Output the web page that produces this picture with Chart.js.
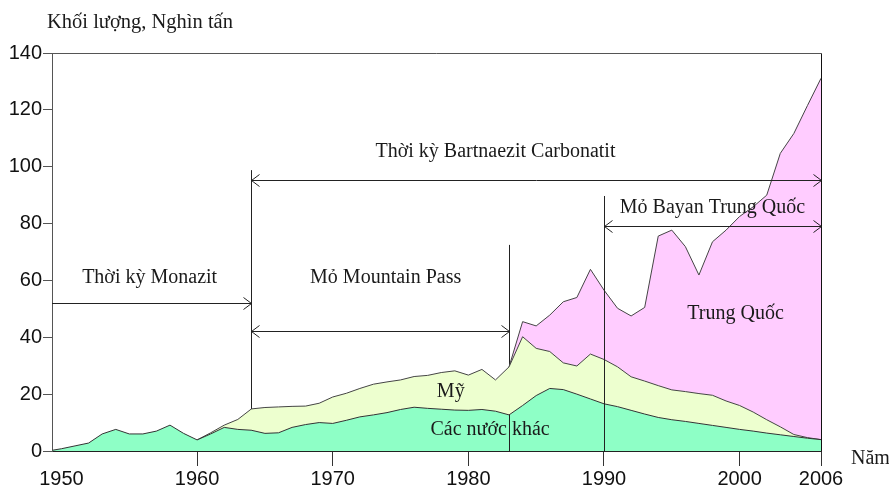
<!DOCTYPE html>
<html>
<head>
<meta charset="utf-8">
<script src="https://cdn.jsdelivr.net/npm/chart.js@4.4.0/dist/chart.umd.min.js"></script>
<style>
    html, body { margin: 0; padding: 0; background: #fff; }
    #wrap { width: 889px; height: 489px; }
</style>
</head>
<body>
<div id="wrap"><canvas id="chart"></canvas></div>
<script>
'use strict';

// years on the x axis
const years = [1949, 1950, 1951, 1952, 1953, 1954, 1955, 1956, 1957, 1958,
    1959, 1960, 1961, 1962, 1963, 1964, 1965, 1966, 1967, 1968,
    1969, 1970, 1971, 1972, 1973, 1974, 1975, 1976, 1977, 1978,
    1979, 1980, 1981, 1982, 1983, 1984, 1985, 1986, 1987, 1988,
    1989, 1990, 1991, 1992, 1993, 1994, 1995, 1996, 1997, 1998,
    1999, 2000, 2001, 2002, 2003, 2004, 2005, 2006];

// thousand tonnes
const others = [0, 0.8, 1.8, 2.8, 6.0, 7.6, 6.0, 6.0, 7.0, 9.1,
    6.2, 3.9, 6.0, 8.3, 7.6, 7.3, 6.2, 6.4, 8.3, 9.3,
    10.0, 9.7, 10.8, 12.0, 12.7, 13.5, 14.6, 15.4, 15.0, 14.7,
    14.4, 14.3, 14.6, 14.0, 12.7, 16.0, 19.5, 22.0, 21.6, 20.0,
    18.3, 16.6, 15.6, 14.3, 13.0, 11.8, 11.0, 10.4, 9.7, 9.0,
    8.3, 7.6, 7.0, 6.3, 5.7, 5.1, 4.5, 4.0];

const usa = [null, null, null, null, null, null, null, null, null, null,
    null, 0, 0.4, 0.8, 3.5, 7.5, 9.1, 9.1, 7.4, 6.5,
    6.8, 9.3, 9.5, 10.0, 10.8, 10.8, 10.4, 10.8, 11.6, 12.9,
    13.8, 12.4, 14.1, 11.0, 16.9, 24.2, 16.6, 13.0, 9.4, 9.9,
    15.8, 15.6, 14.0, 11.8, 11.6, 11.2, 10.5, 10.5, 10.5, 10.6,
    9.3, 8.4, 6.7, 4.7, 2.8, 0.7, 0.2, 0];

const china = [null, null, null, null, null, null, null, null, null, null,
    null, null, null, null, null, null, null, null, null, null,
    null, null, null, null, null, null, null, null, null, null,
    null, null, null, null, 0, 5.3, 7.9, 12.8, 21.5, 24.1,
    29.8, 24.4, 20.6, 21.4, 25.9, 52.6, 56.2, 51.0, 41.7, 54.0,
    60.1, 66.5, 72.2, 79.0, 96.2, 105.9, 116.8, 127.1];

const xTicks = [1950, 1960, 1970, 1980, 1990, 2000, 2006];

const serif = '"Liberation Serif", "Times New Roman", serif';
const sans = '"Liberation Sans", Arial, sans-serif';

const toPoints = (arr) => years.map((yr, i) => ({ x: yr, y: arr[i] }));

// crisp 1px line helpers
const px = (v) => Math.round(v) + 0.5;

function line(ctx, x1, y1, x2, y2) {
    ctx.beginPath();
    ctx.moveTo(x1, y1);
    ctx.lineTo(x2, y2);
    ctx.stroke();
}

function head(ctx, x, y, dir) {
    ctx.beginPath();
    ctx.moveTo(x - dir * 8, y - 6);
    ctx.lineTo(x, y);
    ctx.lineTo(x - dir * 8, y + 6);
    ctx.stroke();
}

const annotate = {
    id: 'annotate',
    beforeDatasetsDraw(chart) {
        const { ctx, scales: { x, y } } = chart;
        ctx.save();
        ctx.strokeStyle = '#222';
        ctx.lineWidth = 1;
        line(ctx, px(x.getPixelForValue(1964)), y.getPixelForValue(98.8), px(x.getPixelForValue(1964)), y.getPixelForValue(0));
        line(ctx, px(x.getPixelForValue(1983)), y.getPixelForValue(72.5), px(x.getPixelForValue(1983)), y.getPixelForValue(0));
        ctx.restore();
    },
    afterDatasetsDraw(chart) {
        const { ctx, chartArea: area, scales: { x, y } } = chart;
        ctx.save();
        ctx.lineWidth = 1;

        // frame top and right
        ctx.strokeStyle = '#555';
        line(ctx, area.left, px(area.top), px(area.right), px(area.top));
        ctx.strokeStyle = '#111';
        line(ctx, px(area.right), px(area.top), px(area.right), area.bottom);

        ctx.strokeStyle = '#222';
        // 1983 line shows again through the green band
        const x83 = px(x.getPixelForValue(1983));
        line(ctx, x83, y.getPixelForValue(others[years.indexOf(1983)]), x83, y.getPixelForValue(0));
        // 1990 line
        const x90 = px(x.getPixelForValue(1990));
        line(ctx, x90, y.getPixelForValue(89.7), x90, y.getPixelForValue(0));

        const xs = (v) => px(x.getPixelForValue(v));
        const ys = (v) => px(y.getPixelForValue(v));

        // Monazit: arrow to the right only
        line(ctx, area.left, ys(52.1), xs(1964), ys(52.1));
        head(ctx, xs(1964), ys(52.1), 1);
        // Mountain Pass
        line(ctx, xs(1964), ys(42.2), xs(1983), ys(42.2));
        head(ctx, xs(1964), ys(42.2), -1);
        head(ctx, xs(1983), ys(42.2), 1);
        // Bartnaezit
        line(ctx, xs(1964), ys(95.3), xs(2006), ys(95.3));
        head(ctx, xs(1964), ys(95.3), -1);
        head(ctx, xs(2006), ys(95.3), 1);
        // Bayan
        line(ctx, xs(1990), ys(79.1), xs(2006), ys(79.1));
        head(ctx, xs(1990), ys(79.1), -1);
        head(ctx, xs(2006), ys(79.1), 1);

        // texts
        ctx.fillStyle = '#1a1a1a';
        ctx.font = '20px ' + serif;
        ctx.textAlign = 'center';
        ctx.textBaseline = 'middle';
        ctx.fillText('Thời kỳ Monazit', x.getPixelForValue(1956.5), y.getPixelForValue(60.8));
        ctx.fillText('Mỏ Mountain Pass', x.getPixelForValue(1973.9), y.getPixelForValue(60.8));
        ctx.fillText('Thời kỳ Bartnaezit Carbonatit', x.getPixelForValue(1982), y.getPixelForValue(105.2));
        ctx.fillText('Mỏ Bayan Trung Quốc', x.getPixelForValue(1998), y.getPixelForValue(85.5));
        ctx.fillText('Trung Quốc', x.getPixelForValue(1999.7), y.getPixelForValue(48.2));
        ctx.fillText('Mỹ', x.getPixelForValue(1978.7), y.getPixelForValue(20.8));
        ctx.fillText('Các nước khác', x.getPixelForValue(1981.6), y.getPixelForValue(7.5));

        // axis titles
        ctx.textAlign = 'left';
        ctx.textBaseline = 'alphabetic';
        ctx.font = '20.5px ' + serif;
        ctx.fillText('Khối lượng, Nghìn tấn', 47, 28);
        ctx.font = '20px ' + serif;
        ctx.fillText('Năm', 851, 464);
        ctx.restore();
    }
};

const baseLine = { borderWidth: 1, pointRadius: 0, tension: 0 };

new Chart(document.getElementById('chart'), {
    type: 'line',
    data: {
        datasets: [
            { ...baseLine, label: 'Các nước khác', data: toPoints(others), backgroundColor: '#8effc6', borderColor: '#333', fill: 'origin' },
            { ...baseLine, label: 'Mỹ', data: toPoints(usa), backgroundColor: '#edffcf', borderColor: '#444', fill: '-1' },
            { ...baseLine, label: 'Trung Quốc', data: toPoints(china), backgroundColor: '#ffccff', borderColor: '#444', fill: '-1' }
        ]
    },
    plugins: [annotate],
    options: {
        responsive: true,
        maintainAspectRatio: false,
        animation: false,
        events: [],
        layout: { padding: { top: 53, right: 68, left: 0, bottom: 0 } },
        plugins: { legend: { display: false }, tooltip: { enabled: false } },
        scales: {
            x: {
                type: 'linear',
                min: 1949.3,
                max: 2006,
                afterBuildTicks: (scale) => { scale.ticks = xTicks.map(v => ({ value: v })); },
                afterFit: (scale) => { scale.height = 38; },
                ticks: {
                    autoSkip: false,
                    maxRotation: 0,
                    padding: 1,
                    color: '#111',
                    font: { family: sans, size: 20 },
                    callback: (v) => String(v)
                },
                grid: {
                    drawOnChartArea: false,
                    tickLength: 15,
                    color: (c) => (c.tick && c.tick.value === 1950) ? 'rgba(0,0,0,0)' : '#333'
                },
                border: { color: '#222' }
            },
            y: {
                stacked: true,
                min: 0,
                max: 140,
                afterFit: (scale) => { scale.width = 52; },
                ticks: {
                    stepSize: 20,
                    padding: 1,
                    color: '#111',
                    font: { family: sans, size: 20 }
                },
                grid: { drawOnChartArea: false, tickLength: 9, color: '#555' },
                border: { color: '#555' }
            }
        }
    }
});
</script>
</body>
</html>
